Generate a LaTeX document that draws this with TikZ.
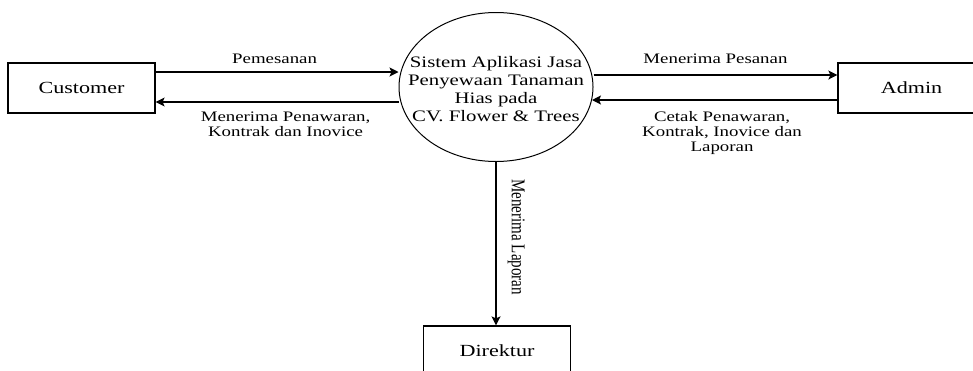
\documentclass[tikz,border=0pt]{standalone}
\usepackage{fontspec}
\setmainfont{Liberation Serif}[FakeStretch=1.3]
\newfontfamily\vertfont{Liberation Serif}[FakeStretch=0.77]
\usetikzlibrary{arrows.meta,shapes.geometric}

\begin{document}
\begin{tikzpicture}[x=1pt,y=-1pt,->,>={Stealth[length=9pt,width=9pt,inset=2pt]},line width=1.2pt]

  \tikzstyle{entity}=[rectangle,draw,minimum width=147pt,minimum height=50pt,font=\fontsize{17}{20}\selectfont]
  \tikzstyle{process}=[ellipse,draw,line width=1pt,minimum width=194pt,minimum height=149pt,inner sep=0pt]
  \tikzstyle{flow}=[font=\fontsize{14.5}{15}\selectfont,align=center,inner sep=2pt]

  \useasboundingbox (0,0) rectangle (973,370);

  \node[entity]  (CUS) at (81.5,88)  {Customer};
  \node[process] (SYS) at (496,87)   {};
  \node[align=center,font=\fontsize{16}{18}\selectfont] (SYT) at (496,89)
       {Sistem Aplikasi Jasa\\Penyewaan Tanaman\\Hias pada\\CV. Flower \& Trees};
  \node[entity]  (ADM) at (911.5,88) {Admin};
  \node[entity]  (DIR) at (497,351)  {Direktur};

  \path
  ([yshift=16pt]CUS.east) edge node[flow,above=5.5pt,pos=0.49] {Pemesanan}
                               ([yshift=16pt]CUS.east -| SYS.west)
  ([yshift=-14pt]CUS.east -| SYS.west) edge node[flow,below=7.5pt,pos=0.465]
       {Menerima Penawaran,\\Kontrak dan Inovice} ([yshift=-14pt]CUS.east)

  ([yshift=13pt]ADM.west -| SYS.east) edge node[flow,above=8.5pt,pos=0.5] {Menerima Pesanan}
                               ([yshift=13pt]ADM.west)
  ([yshift=-12pt]ADM.west) edge node[flow,below=9pt,pos=0.47]
       {Cetak Penawaran,\\Kontrak, Inovice dan\\Laporan} ([yshift=-12pt,xshift=-1.5pt]ADM.west -| SYS.east)

  (SYS.south) edge node[sloped,above=9pt,pos=0.46,inner sep=2pt,font=\vertfont\fontsize{19.5}{22}\selectfont]
       {Menerima Laporan} (SYS.south |- DIR.north)
  ;
\end{tikzpicture}
\end{document}
